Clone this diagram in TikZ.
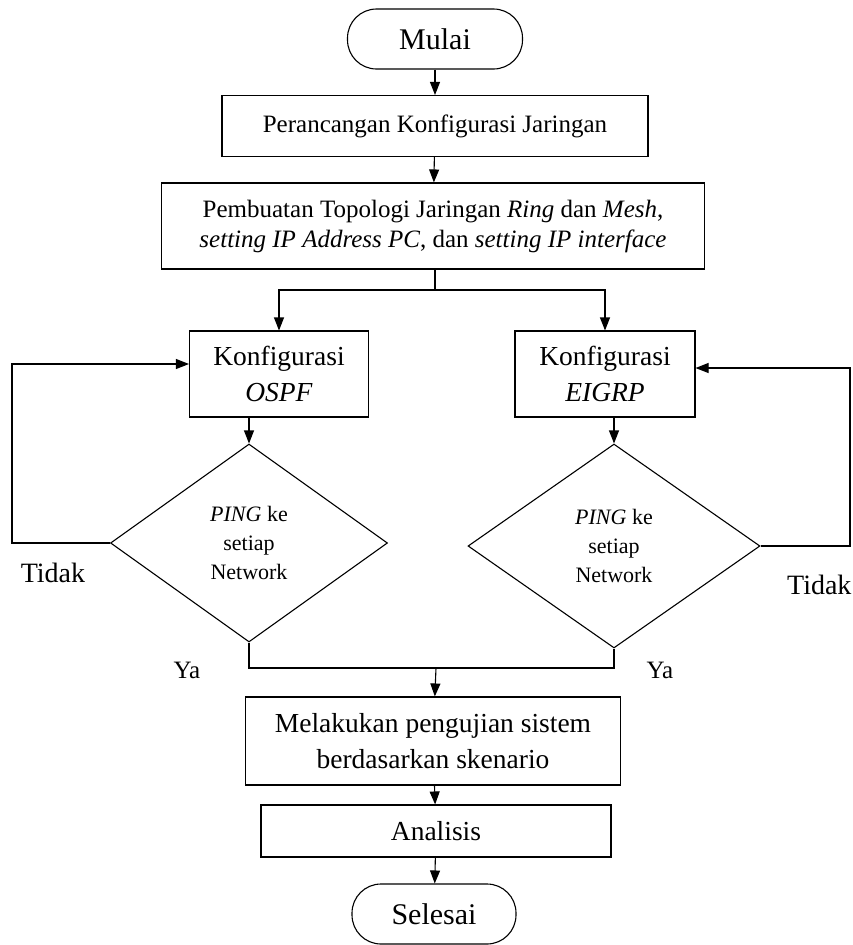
\documentclass[tikz,border=0pt]{standalone}
\usepackage{fontspec}
\setmainfont{Liberation Serif}
\usetikzlibrary{arrows.meta,shapes.geometric}

\begin{document}
\begin{tikzpicture}[x=1pt,y=-1pt,line width=1.1pt,font=\fontsize{25}{30}\selectfont,
  terminal/.style={draw,rounded corners=29pt,minimum width=175pt,minimum height=60pt,inner sep=0pt,font=\fontsize{30}{34}\selectfont},
  procbox/.style={draw,rectangle,inner sep=0pt,align=center},
  bigbox/.style={procbox,font=\fontsize{27.5}{36}\selectfont},
  decision/.style={draw,diamond,inner sep=0pt,align=center,font=\fontsize{22}{29}\selectfont},
  arrow/.style={-{Triangle[length=13pt,width=10pt]}}]
  \useasboundingbox (0,0) rectangle (852,945);

  % nodes
  \node[terminal] (mulai) at (435,39) {Mulai};
  \node[procbox,minimum width=426pt,minimum height=61pt] (rancang) at (435,126) {Perancangan Konfigurasi Jaringan};
  \node[procbox,minimum width=543pt,minimum height=86pt] (topologi) at (433,226)
    {Pembuatan Topologi Jaringan \textit{Ring} dan \textit{Mesh},\\
     \textit{setting IP Address PC}, dan \textit{setting IP interface}};
  \node[bigbox,minimum width=179pt,minimum height=86pt] (ospf) at (279,374) {Konfigurasi\\\textit{OSPF}};
  \node[bigbox,minimum width=180pt,minimum height=86pt] (eigrp) at (605,374) {Konfigurasi\\\textit{EIGRP}};
  \node[decision,minimum width=277pt,minimum height=198pt] (pingospf) at (249,543) {\textit{PING} ke\\setiap\\Network};
  \node[decision,minimum width=292pt,minimum height=204pt] (pingeigrp) at (614,546) {\textit{PING} ke\\setiap\\Network};
  \node[bigbox,minimum width=375pt,minimum height=88pt] (uji) at (433,741) {Melakukan pengujian sistem\\berdasarkan skenario};
  \node[bigbox,minimum width=350pt,minimum height=52pt] (analisis) at (436,831) {Analisis};
  \node[terminal,minimum width=164pt] (selesai) at (434,914) {Selesai};

  % labels
  \node[font=\fontsize{28}{32}\selectfont] (tidakkiri) at (53,573) {Tidak};
  \node[anchor=east,inner sep=0pt,font=\fontsize{28}{32}\selectfont] (tidakkanan) at (852,585) {Tidak};
  \node (yakiri) at (187,670) {Ya};
  \node (yakanan) at (660,670) {Ya};

  % helper points
  \coordinate (cabang) at (435,290);
  \coordinate (gabung) at (436,668);
  \coordinate (kiri) at (12,543);
  \coordinate (kanan) at (850,546);

  % connectors
  \draw[arrow] (mulai) -- (rancang);
  \draw[arrow] (rancang) -- (topologi);
  \draw (topologi.south -| cabang) -- (cabang);
  \draw[arrow] (cabang) -| (ospf.north);
  \draw[arrow] (cabang) -| (eigrp.north);
  \draw[arrow] (ospf.south -| pingospf.north) -- (pingospf.north);
  \draw[arrow] (eigrp.south -| pingeigrp.north) -- (pingeigrp.north);
  \draw[arrow] (pingospf.west) -- (kiri) |- ([yshift=10pt]ospf.west);
  \draw[arrow] (pingeigrp.east) -- (kanan) |- ([yshift=6pt]eigrp.east);
  \draw (pingospf.south) |- (gabung) -| (pingeigrp.south);
  \draw[arrow] (gabung) -- (uji);
  \draw[arrow] (uji) -- (analisis);
  \draw[arrow] (analisis) -- (selesai);
\end{tikzpicture}
\end{document}
